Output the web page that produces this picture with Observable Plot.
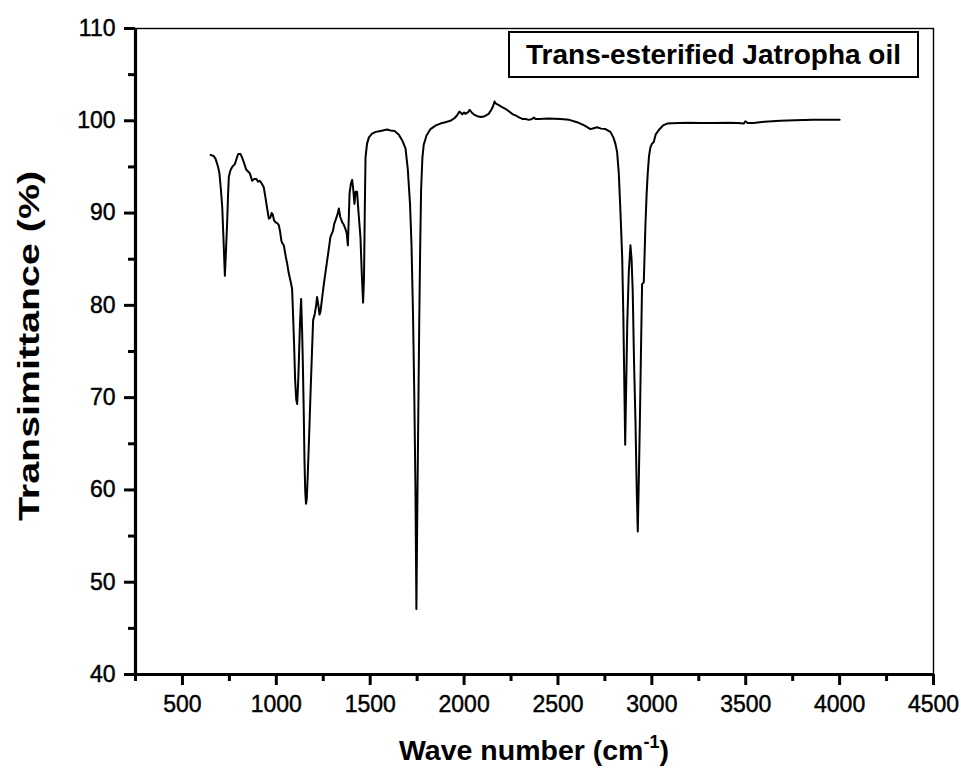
<!DOCTYPE html>
<html>
<head>
<meta charset="utf-8">
<script src="https://cdn.jsdelivr.net/npm/d3@7"></script>
<script src="https://cdn.jsdelivr.net/npm/@observablehq/plot@0.6"></script>
<style>
  html, body { margin: 0; padding: 0; background: #ffffff; }
  #chart { width: 961px; height: 772px; }
</style>
</head>
<body>
<div id="chart"></div>
<script>
// ---- Data ----
const wavenumber = [
  650, 665, 676, 690, 697, 705, 712, 719, 726, 732, 738, 743, 747, 755, 765, 779, 790, 797, 809, 818,
  827, 840, 850, 859, 871, 882, 894, 903, 912, 922, 933, 942, 951, 960, 968, 975, 981, 988, 996, 1005,
  1013, 1020, 1027, 1033, 1040, 1050, 1058, 1066, 1075, 1084, 1090, 1095, 1100, 1106, 1111, 1116, 1120, 1126, 1132, 1137,
  1141, 1146, 1150, 1154, 1158, 1162, 1167, 1175, 1182, 1190, 1196, 1205, 1212, 1217, 1224, 1230, 1235, 1244, 1253, 1262,
  1271, 1280, 1288, 1302, 1308, 1315, 1325, 1333, 1340, 1351, 1360, 1368, 1375, 1381, 1386, 1390, 1397, 1404, 1410, 1416,
  1422, 1430, 1438, 1448, 1455, 1462, 1467, 1471, 1475, 1483, 1493, 1510, 1530, 1555, 1590, 1608, 1630, 1652, 1670, 1688,
  1700, 1712, 1720, 1728, 1735, 1741, 1746, 1750, 1755, 1761, 1766, 1771, 1778, 1785, 1800, 1821, 1850, 1874, 1900, 1927,
  1950, 1963, 1975, 1981, 1990, 2000, 2007, 2020, 2030, 2040, 2051, 2070, 2090, 2110, 2131, 2145, 2155, 2162, 2167, 2175,
  2185, 2200, 2220, 2240, 2260, 2273, 2290, 2310, 2327, 2345, 2362, 2372, 2380, 2400, 2450, 2513, 2560, 2602, 2640, 2673,
  2690, 2708, 2730, 2753, 2779, 2795, 2806, 2815, 2824, 2833, 2842, 2848, 2853, 2858, 2863, 2869, 2877, 2886, 2892, 2898,
  2905, 2913, 2919, 2925, 2930, 2936, 2942, 2948, 2957, 2962, 2966, 2972, 2978, 2985, 2992, 3000, 3010, 3020, 3037, 3060,
  3081, 3143, 3200, 3260, 3330, 3400, 3460, 3489, 3498, 3510, 3542, 3600, 3684, 3760, 3862, 3940, 4000
];
const transmittance = [
  96.3, 96.2, 95.9, 95.0, 94.3, 92.5, 90.6, 87.0, 83.2, 86.0, 88.9, 92.0, 93.9, 94.6, 95.0, 95.3, 96.0, 96.4, 96.4, 96.0,
  95.5, 94.7, 94.5, 94.3, 93.5, 93.7, 93.7, 93.4, 93.5, 93.2, 92.8, 91.7, 90.5, 89.4, 89.5, 90.0, 89.85, 89.2, 89.0, 88.9,
  88.7, 88.0, 87.0, 86.7, 86.5, 85.3, 84.5, 83.5, 82.7, 81.8, 78.5, 75.5, 72.0, 69.8, 69.3, 71.5, 74.0, 78.0, 80.7, 77.5,
  74.0, 68.5, 63.2, 59.8, 58.5, 59.0, 61.4, 66.0, 70.4, 75.0, 78.4, 79.1, 80.0, 80.9, 80.0, 79.0, 79.3, 80.8, 82.3, 83.6,
  84.9, 86.2, 87.4, 88.1, 88.8, 89.2, 89.8, 90.5, 89.6, 89.0, 88.7, 88.3, 87.8, 86.5, 89.5, 92.1, 93.2, 93.6, 92.5, 91.0,
  92.3, 92.3, 90.0, 87.4, 83.5, 80.3, 83.0, 90.0, 96.0, 97.5, 98.2, 98.6, 98.8, 98.9, 99.05, 98.95, 98.9, 98.5, 97.9, 97.0,
  94.8, 91.0, 86.5, 79.0, 70.0, 60.0, 47.1, 56.0, 66.0, 78.0, 86.0, 92.5, 96.0, 97.4, 98.4, 99.1, 99.5, 99.7, 99.85, 100.0,
  100.3, 100.6, 101.0, 100.9, 100.7, 100.9, 100.75, 100.9, 101.2, 100.9, 100.7, 100.5, 100.4, 100.5, 100.75, 101.2, 101.6, 102.1, 101.9, 101.8,
  101.7, 101.5, 101.3, 101.0, 100.7, 100.6, 100.4, 100.2, 100.2, 100.1, 100.2, 100.35, 100.2, 100.2, 100.25, 100.2, 100.1, 99.85, 99.5, 99.1,
  99.2, 99.3, 99.15, 99.1, 98.8, 98.2, 97.5, 96.6, 94.3, 90.0, 85.2, 79.0, 72.0, 64.9, 71.0, 78.0, 83.5, 86.5, 85.0, 81.6,
  74.0, 67.2, 60.5, 55.5, 60.5, 67.2, 75.0, 82.3, 82.5, 86.0, 88.8, 92.0, 94.3, 96.2, 97.1, 97.5, 97.7, 98.5, 99.0, 99.5,
  99.7, 99.75, 99.8, 99.75, 99.75, 99.8, 99.75, 99.7, 99.95, 99.75, 99.75, 99.9, 100.0, 100.05, 100.1, 100.1, 100.1
];

// ---- Axis ticks and labels ----
const xTicks = [500, 1000, 1500, 2000, 2500, 3000, 3500, 4000, 4500];
const xMinorTicks = [250, 750, 1250, 1750, 2250, 2750, 3250, 3750, 4250];
const yTicks = [40, 50, 60, 70, 80, 90, 100, 110];
const yMinorTicks = [45, 55, 65, 75, 85, 95, 105];
const xDomain = [250, 4500];
const yDomain = [40, 110];

const legendText = "Trans-esterified Jatropha oil";
const xLabelMain = "Wave number (cm";
const xLabelSup = "-1";
const xLabelEnd = ")";
const yLabel = "Transimittance (%)";

const spectrum = wavenumber.map((w, i) => ({ w, t: transmittance[i] }));

const W = 961, H = 772;
const mL = 135, mR = 28, mT = 28, mB = 98;
const FONT = "'Liberation Sans', Arial, Helvetica, sans-serif";

const chart = Plot.plot({
  width: W,
  height: H,
  marginLeft: mL,
  marginRight: mR,
  marginTop: mT,
  marginBottom: mB,
  style: { fontFamily: FONT, fontSize: "23px", color: "black", background: "white", overflow: "visible" },
  x: { domain: xDomain },
  y: { domain: yDomain },
  marks: [
    Plot.frame({ stroke: "black", strokeWidth: 1.4 }),
    Plot.line(spectrum, { x: "w", y: "t", stroke: "black", strokeWidth: 2 }),
    Plot.axisX({ ticks: xTicks, tickSize: 11, tickPadding: 10, strokeWidth: 3, label: null, tickFormat: d => String(d) }),
    Plot.axisX({ ticks: xMinorTicks, tickSize: 7, strokeWidth: 3, label: null, tickFormat: () => "" }),
    Plot.axisY({ ticks: yTicks, tickSize: 11, tickPadding: 9, strokeWidth: 3, label: null, tickFormat: d => String(d) }),
    Plot.axisY({ ticks: yMinorTicks, tickSize: 7, strokeWidth: 3, label: null, tickFormat: () => "" }),
    Plot.ruleX([xDomain[0]], { stroke: "black", strokeWidth: 3.2 }),
    Plot.ruleY([yDomain[0]], { stroke: "black", strokeWidth: 3.2 })
  ]
});

document.getElementById("chart").appendChild(chart);

const svg = d3.select(chart);

// Make sure tick marks are drawn thick, and tick labels slightly heavier
svg.selectAll('g[aria-label="x-axis tick"], g[aria-label="y-axis tick"]')
  .attr("stroke-width", 3);
svg.selectAll('g[aria-label="x-axis tick"] path, g[aria-label="y-axis tick"] path')
  .attr("stroke-width", 3);
svg.selectAll('g[aria-label="x-axis tick label"] text, g[aria-label="y-axis tick label"] text')
  .attr("stroke", "black").attr("stroke-width", 0.45);

// Legend box (top-right inside the frame)
const lg = svg.append("g").attr("class", "legend-box");
const legendRectX = 509, legendRectY = 32, legendRectW = 409, legendRectH = 45;
lg.append("rect")
  .attr("x", legendRectX).attr("y", legendRectY)
  .attr("width", legendRectW).attr("height", legendRectH)
  .attr("fill", "white").attr("stroke", "black").attr("stroke-width", 2);
lg.append("text")
  .attr("x", legendRectX + legendRectW / 2).attr("y", legendRectY + 32)
  .attr("text-anchor", "middle")
  .attr("font-family", FONT).attr("font-weight", "bold").attr("font-size", 28)
  .attr("fill", "black")
  .text(legendText);

// X axis title with superscript
const xt = svg.append("text")
  .attr("x", (mL + (W - mR)) / 2).attr("y", 760)
  .attr("text-anchor", "middle")
  .attr("font-family", FONT).attr("font-weight", "bold").attr("font-size", 28.5)
  .attr("fill", "black");
xt.append("tspan").text(xLabelMain);
xt.append("tspan").attr("dy", -12).attr("font-size", 18).text(xLabelSup);
xt.append("tspan").attr("dy", 12).text(xLabelEnd);

// Y axis title
svg.append("text")
  .attr("transform", `translate(39, ${(mT + (H - mB)) / 2 - 5}) rotate(-90)`)
  .attr("text-anchor", "middle")
  .attr("font-family", FONT).attr("font-weight", "bold").attr("font-size", 29)
  .attr("textLength", 350).attr("lengthAdjust", "spacingAndGlyphs")
  .attr("fill", "black")
  .text(yLabel);
</script>
</body>
</html>
